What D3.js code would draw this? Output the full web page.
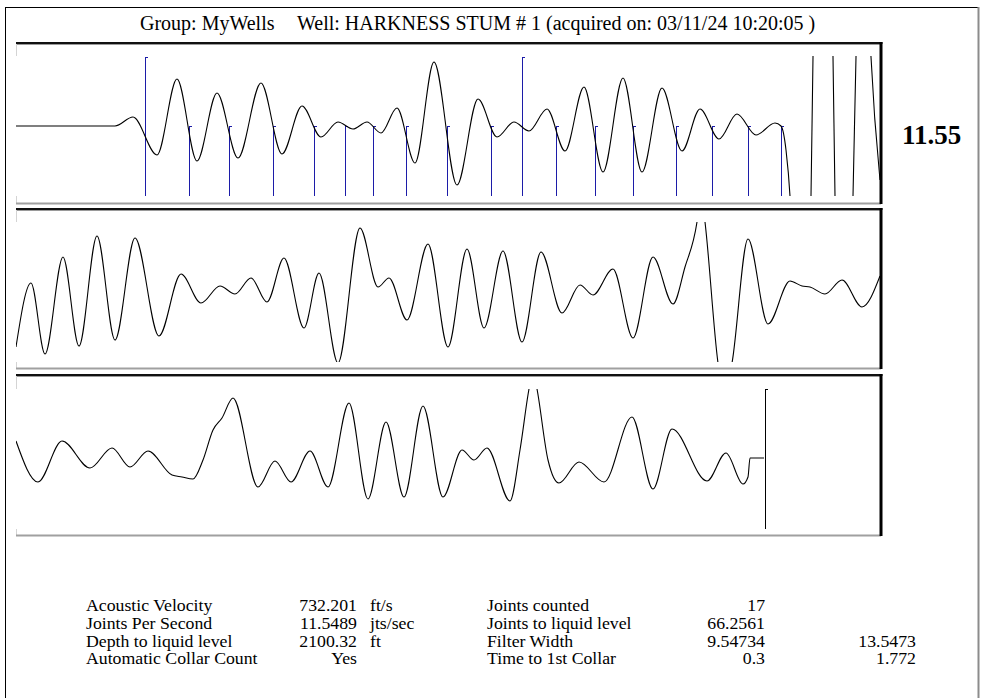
<!DOCTYPE html>
<html>
<head>
<meta charset="utf-8">
<script src="https://cdn.jsdelivr.net/npm/d3@7"></script>
<style>
    body { margin: 0; background: #fff; }
    svg { display: block; font-family: "Liberation Serif", "Times New Roman", serif; }
</style>
</head>
<body>
<svg id="chart" width="984" height="698"></svg>
<script>

// ---- header text ----
const titleGroup = "Group: MyWells";
const titleWell = "Well: HARKNESS STUM # 1 (acquired on: 03/11/24 10:20:05 )";
const jointsPerSecondText = "11.55";

// ---- acoustic trace, panel 1 (sample index / amplitude) ----
const trace1T = [0, 99, 117, 141, 161, 181, 201, 222, 245, 266, 286, 305, 322, 337, 351, 365, 381, 399, 418, 441,
    462, 481, 498, 513, 531, 549, 568, 587, 607, 626, 646, 666, 684, 703, 721, 740, 759, 765, 770, 774,
    784, 795, 797, 807, 817, 819, 828, 837, 840, 848, 855, 864];
const trace1A = [0, 0, 9, -29, 47, -35, 33, -32, 43, -28, 20, -11, 4, -3, 4, -7, 18, -37, 64, -59,
    27, -11, 4, -5, 17, -25, 39, -46, 48, -46, 38, -25, 17, -13, 12, -9, 3, 0, -24, -70,
    -400, -70, 69, 450, 69, -70, -350, -70, 69, 250, 69, -54];

// collars picked on panel 1, and the two reference marks
const collarT = [129, 173, 213, 257, 298, 329, 357, 390, 431, 475, 506, 540, 579, 617, 660, 696, 732, 765];
const referenceT = [129, 506];

// ---- panel 2 ----
const trace2T = [0, 15, 29, 47, 63, 81, 99, 119, 143, 165, 185, 204, 219, 235, 251, 268, 288, 303, 322, 344,
    362, 373, 391, 412, 432, 451, 468, 487, 506, 525, 546, 564, 577, 597, 617, 637, 657, 669, 681, 685,
    689, 702, 708, 716, 732, 752, 774, 786, 794, 809, 826, 846, 864];
const trace2A = [-55, 9, -62, 35, -54, 56, -48, 54, -44, 18, -11, 6, -2, 14, -10, 34, -36, 19, -71, 64,
    5, 14, -28, 48, -55, 43, -36, 41, -50, 40, -21, 7, -3, 23, -46, 35, -12, 25, 70, 100,
    70, -71, -105, -71, 53, -32, 11, 6, 5, -2, 12, -15, 16];

// ---- panel 3 ----
const trace3T = [0, 22, 46, 74, 96, 114, 132, 156, 166, 177, 187, 197, 206, 217, 242, 259, 275, 294, 312, 333,
    352, 370, 388, 407, 427, 446, 458, 471, 494, 504, 513, 517, 521, 532, 543, 563, 588, 616, 637, 656,
    691, 710, 727, 732, 734, 748];
const trace3A = [18, -23, 18, -9, 11, -8, 8, -16, -18, -20, -1, 29, 41, 61, -28, -2, -23, 8, -28, 56,
    -40, 37, -38, 53, -38, 9, -1, 11, -42, 9, 70, 89, 70, -1, -24, -3, -23, 42, -30, 30,
    -22, 6, -25, -18, 1, 1];
const liquidT = [749];

// ---- results table ----
const leftLabels = ["Acoustic Velocity", "Joints Per Second", "Depth to liquid level", "Automatic Collar Count"];
const leftValues = ["732.201", "11.5489", "2100.32", "Yes"];
const leftUnits = ["ft/s", "jts/sec", "ft", ""];
const rightLabels = ["Joints counted", "Joints to liquid level", "Filter Width", "Time to 1st Collar"];
const rightValues = ["17", "66.2561", "9.54734", "0.3"];
const extraValues = ["", "", "13.5473", "1.772"];


/**
 * One boxed strip of the echo trace.
 */
class TracePanel {

    constructor(svg, id, top, bottom, center) {
        this.svg = svg;
        this.top = top;
        this.bottom = bottom;
        this.left = 16;
        this.right = 881;
        this.half = 70;

        this.x = d3.scaleLinear().domain([0, 865]).range([this.left, this.right]);
        this.y = d3.scaleLinear().domain([-this.half, this.half]).range([center + this.half, center - this.half]);

        this.g = svg.append("g").attr("class", id);
        this.drawFrame(id);
    }

    /**
     * Sunken-looking frame: dark top/right, light left/bottom.
     */
    drawFrame(id) {
        let g = this.g;
        g.append("line")
            .attr("x1", this.left + 0.5).attr("x2", this.left + 0.5)
            .attr("y1", this.top + 2).attr("y2", this.bottom)
            .attr("stroke", "#d4d4d4");
        g.append("line")
            .attr("x1", this.left).attr("x2", this.right)
            .attr("y1", this.bottom - 0.5).attr("y2", this.bottom - 0.5)
            .attr("stroke", "#a0a0a0").attr("stroke-width", 2);
        g.append("line")
            .attr("x1", this.left).attr("x2", this.right + 1.5)
            .attr("y1", this.top + 1).attr("y2", this.top + 1)
            .attr("stroke", "#111").attr("stroke-width", 2);
        g.append("line")
            .attr("x1", this.left + 1).attr("x2", this.right - 1)
            .attr("y1", this.top + 2.5).attr("y2", this.top + 2.5)
            .attr("stroke", "#9a9a9a");
        g.append("line")
            .attr("x1", this.right).attr("x2", this.right)
            .attr("y1", this.top).attr("y2", this.bottom)
            .attr("stroke", "#000").attr("stroke-width", 3);

        // plot area
        let y0 = this.y(this.half), y1 = this.y(-this.half);
        g.append("rect")
            .attr("x", this.left).attr("y", y0)
            .attr("width", this.right - this.left - 2).attr("height", y1 - y0)
            .attr("fill", "#fff");

        g.append("clipPath").attr("id", "clip-" + id)
            .append("rect")
            .attr("x", this.left).attr("y", y0)
            .attr("width", this.right - this.left - 1).attr("height", y1 - y0);

        this.plot = g.append("g").attr("clip-path", "url(#clip-" + id + ")");
    }

    drawTrace(ts, amps) {
        let pts = ts.map((t, i) => [t, amps[i]]);
        let line = d3.line()
            .x(d => this.x(d[0]))
            .y(d => this.y(d[1]))
            .curve(d3.curveMonotoneX);

        this.plot.append("path")
            .datum(pts)
            .attr("d", line)
            .attr("fill", "none")
            .attr("stroke", "#000")
            .attr("stroke-width", 1.1);
    }

    /**
     * Vertical marks from amplitude a0 down to a1, with a small cap.
     */
    drawMarks(ts, a0, a1, color) {
        let sel = this.plot.append("g");
        sel.selectAll("line.mark")
            .data(ts)
            .join("line")
            .attr("class", "mark")
            .attr("x1", d => Math.round(this.x(d)) + 0.5)
            .attr("x2", d => Math.round(this.x(d)) + 0.5)
            .attr("y1", this.y(a0))
            .attr("y2", this.y(a1))
            .attr("stroke", color)
            .attr("stroke-width", 1);
        sel.selectAll("line.cap")
            .data(ts)
            .join("line")
            .attr("class", "cap")
            .attr("x1", d => Math.round(this.x(d)))
            .attr("x2", d => Math.round(this.x(d)) + 3)
            .attr("y1", this.y(a0) + 0.5)
            .attr("y2", this.y(a0) + 0.5)
            .attr("stroke", color)
            .attr("stroke-width", 1);
    }
}

const svg = d3.select("#chart");

// outer border
svg.append("line").attr("x1", 5.5).attr("x2", 5.5).attr("y1", 7).attr("y2", 698).attr("stroke", "#000");
svg.append("line").attr("x1", 5).attr("x2", 979).attr("y1", 7.5).attr("y2", 7.5).attr("stroke", "#000");
svg.append("line").attr("x1", 978.5).attr("x2", 978.5).attr("y1", 7).attr("y2", 698)
    .attr("stroke", "#8c8c8c").attr("stroke-width", 2);

// title
svg.append("text").attr("x", 140).attr("y", 29.5)
    .attr("font-size", 20).text(titleGroup);
svg.append("text").attr("x", 297).attr("y", 29.5)
    .attr("font-size", 20).text(titleWell);

// panels
const p1 = new TracePanel(svg, "p1", 42, 204, 126);
const p2 = new TracePanel(svg, "p2", 208, 369, 292);
const p3 = new TracePanel(svg, "p3", 374, 536, 459);

const shortCollars = collarT.filter(t => !referenceT.includes(t));
p1.drawMarks(shortCollars, 0, -70, "#1c1ca8");
p1.drawMarks(referenceT, 69, -70, "#1c1ca8");
p1.drawTrace(trace1T, trace1A);

p2.drawTrace(trace2T, trace2A);

p3.drawTrace(trace3T, trace3A);
p3.drawMarks(liquidT, 70, -70, "#000");

svg.append("text").attr("x", 902).attr("y", 144)
    .attr("font-size", 27).attr("font-weight", "bold")
    .text(jointsPerSecondText);

// results table (the font is drawn a little wide, as in the original)
const rowY = d3.scalePoint().domain(d3.range(leftLabels.length)).range([611, 664.4]);
const tableFont = 16;
const tableStretch = 1.11;

function column(texts, x, anchor) {
    svg.append("g")
        .selectAll("text")
        .data(texts)
        .join("text")
        .attr("transform", (d, i) => `translate(${x},${rowY(i)}) scale(${tableStretch},1)`)
        .attr("font-size", tableFont)
        .attr("text-anchor", anchor)
        .text(d => d);
}

column(leftLabels, 86, "start");
column(leftValues, 357, "end");
column(leftUnits, 370, "start");
column(rightLabels, 487, "start");
column(rightValues, 765, "end");
column(extraValues, 916, "end");

</script>
</body>
</html>
